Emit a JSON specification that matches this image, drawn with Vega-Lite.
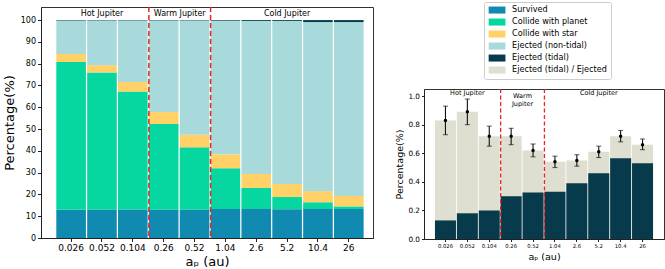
{
  "$schema": "https://vega.github.io/schema/vega-lite/v6.json",
  "padding": {"left": 2, "top": 1, "right": 0, "bottom": 0},
  "spacing": 20,
  "config": {
    "font": "DejaVu Sans",
    "view": {"stroke": "#333333", "strokeWidth": 1},
    "axis": {"domainColor": "#222222", "tickColor": "#222222", "labelColor": "#000000", "titleColor": "#000000", "grid": false, "tickSize": 3.5, "labelPadding": 2, "titleFontWeight": "normal", "labelFont": "DejaVu Sans", "titleFont": "DejaVu Sans", "labelOverlap": false},
    "legend": {"orient": "none", "legendX": 443, "legendY": -5, "labelFontSize": 8.1, "labelFont": "DejaVu Sans", "labelColor": "#000000", "symbolType": "M-2.4,-1H2.4V1H-2.4Z", "symbolSize": 49, "symbolStrokeWidth": 0, "symbolOpacity": 1, "rowPadding": 3.0, "labelOffset": 11, "padding": 4, "strokeColor": "#cccccc", "fillColor": "white", "cornerRadius": 2, "symbolOffset": 5}
  },
  "datasets": {
    "left": [
      {"ap": "0.026", "cat": "Survived", "k": 1, "value": 13.0},
      {"ap": "0.026", "cat": "Collide with planet", "k": 2, "value": 67.8},
      {"ap": "0.026", "cat": "Collide with star", "k": 3, "value": 3.6},
      {"ap": "0.026", "cat": "Ejected (non-tidal)", "k": 4, "value": 15.4},
      {"ap": "0.026", "cat": "Ejected (tidal)", "k": 5, "value": 0.2},
      {"ap": "0.052", "cat": "Survived", "k": 1, "value": 13.0},
      {"ap": "0.052", "cat": "Collide with planet", "k": 2, "value": 63.0},
      {"ap": "0.052", "cat": "Collide with star", "k": 3, "value": 3.3},
      {"ap": "0.052", "cat": "Ejected (non-tidal)", "k": 4, "value": 20.5},
      {"ap": "0.052", "cat": "Ejected (tidal)", "k": 5, "value": 0.2},
      {"ap": "0.104", "cat": "Survived", "k": 1, "value": 13.1},
      {"ap": "0.104", "cat": "Collide with planet", "k": 2, "value": 54.1},
      {"ap": "0.104", "cat": "Collide with star", "k": 3, "value": 4.4},
      {"ap": "0.104", "cat": "Ejected (non-tidal)", "k": 4, "value": 28.2},
      {"ap": "0.104", "cat": "Ejected (tidal)", "k": 5, "value": 0.2},
      {"ap": "0.26", "cat": "Survived", "k": 1, "value": 13.0},
      {"ap": "0.26", "cat": "Collide with planet", "k": 2, "value": 39.3},
      {"ap": "0.26", "cat": "Collide with star", "k": 3, "value": 5.5},
      {"ap": "0.26", "cat": "Ejected (non-tidal)", "k": 4, "value": 42.0},
      {"ap": "0.26", "cat": "Ejected (tidal)", "k": 5, "value": 0.2},
      {"ap": "0.52", "cat": "Survived", "k": 1, "value": 13.0},
      {"ap": "0.52", "cat": "Collide with planet", "k": 2, "value": 28.6},
      {"ap": "0.52", "cat": "Collide with star", "k": 3, "value": 5.8},
      {"ap": "0.52", "cat": "Ejected (non-tidal)", "k": 4, "value": 52.4},
      {"ap": "0.52", "cat": "Ejected (tidal)", "k": 5, "value": 0.2},
      {"ap": "1.04", "cat": "Survived", "k": 1, "value": 13.3},
      {"ap": "1.04", "cat": "Collide with planet", "k": 2, "value": 18.7},
      {"ap": "1.04", "cat": "Collide with star", "k": 3, "value": 6.4},
      {"ap": "1.04", "cat": "Ejected (non-tidal)", "k": 4, "value": 61.3},
      {"ap": "1.04", "cat": "Ejected (tidal)", "k": 5, "value": 0.3},
      {"ap": "2.6", "cat": "Survived", "k": 1, "value": 13.3},
      {"ap": "2.6", "cat": "Collide with planet", "k": 2, "value": 9.7},
      {"ap": "2.6", "cat": "Collide with star", "k": 3, "value": 6.4},
      {"ap": "2.6", "cat": "Ejected (non-tidal)", "k": 4, "value": 70.2},
      {"ap": "2.6", "cat": "Ejected (tidal)", "k": 5, "value": 0.4},
      {"ap": "5.2", "cat": "Survived", "k": 1, "value": 13.2},
      {"ap": "5.2", "cat": "Collide with planet", "k": 2, "value": 5.6},
      {"ap": "5.2", "cat": "Collide with star", "k": 3, "value": 6.0},
      {"ap": "5.2", "cat": "Ejected (non-tidal)", "k": 4, "value": 74.8},
      {"ap": "5.2", "cat": "Ejected (tidal)", "k": 5, "value": 0.4},
      {"ap": "10.4", "cat": "Survived", "k": 1, "value": 13.3},
      {"ap": "10.4", "cat": "Collide with planet", "k": 2, "value": 3.1},
      {"ap": "10.4", "cat": "Collide with star", "k": 3, "value": 5.1},
      {"ap": "10.4", "cat": "Ejected (non-tidal)", "k": 4, "value": 77.6},
      {"ap": "10.4", "cat": "Ejected (tidal)", "k": 5, "value": 0.9},
      {"ap": "26", "cat": "Survived", "k": 1, "value": 13.3},
      {"ap": "26", "cat": "Collide with planet", "k": 2, "value": 1.2},
      {"ap": "26", "cat": "Collide with star", "k": 3, "value": 4.8},
      {"ap": "26", "cat": "Ejected (non-tidal)", "k": 4, "value": 79.8},
      {"ap": "26", "cat": "Ejected (tidal)", "k": 5, "value": 0.9}
    ],
    "right": [
      {"ap": "0.026", "tidal": 0.13, "ratio": 0.83, "lo": 0.73, "hi": 0.93},
      {"ap": "0.052", "tidal": 0.18, "ratio": 0.89, "lo": 0.80, "hi": 0.98},
      {"ap": "0.104", "tidal": 0.20, "ratio": 0.72, "lo": 0.65, "hi": 0.79},
      {"ap": "0.26", "tidal": 0.30, "ratio": 0.72, "lo": 0.66, "hi": 0.775},
      {"ap": "0.52", "tidal": 0.325, "ratio": 0.62, "lo": 0.575, "hi": 0.665},
      {"ap": "1.04", "tidal": 0.33, "ratio": 0.54, "lo": 0.50, "hi": 0.58},
      {"ap": "2.6", "tidal": 0.39, "ratio": 0.55, "lo": 0.51, "hi": 0.59},
      {"ap": "5.2", "tidal": 0.46, "ratio": 0.61, "lo": 0.57, "hi": 0.65},
      {"ap": "10.4", "tidal": 0.565, "ratio": 0.72, "lo": 0.68, "hi": 0.76},
      {"ap": "26", "tidal": 0.53, "ratio": 0.66, "lo": 0.625, "hi": 0.70}
    ],
    "bounds": [{"ap": "0.26"}, {"ap": "1.04"}],
    "labels": [
      {"ap": "0.052", "label": "Hot Jupiter", "mid": "center"},
      {"ap": "0.52", "label": "Warm Jupiter", "mid": "edge"},
      {"ap": "5.2", "label": "Cold Jupiter", "mid": "center"}
    ],
    "labels2": [
      {"ap": "0.052", "label": "Hot Jupiter", "mid": "center"},
      {"ap": "0.52", "label": "Warm\nJupiter", "mid": "edge"},
      {"ap": "5.2", "label": "Cold Jupiter", "mid": "center"}
    ]
  },
  "hconcat": [
    {
      "width": 332,
      "height": 231,
      "encoding": {
        "x": {"field": "ap", "type": "ordinal", "scale": {"domain": ["0.026", "0.052", "0.104", "0.26", "0.52", "1.04", "2.6", "5.2", "10.4", "26"], "paddingInner": 0.04, "paddingOuter": 0.4, "align": 0.62}, "axis": {"title": "aₚ (au)", "labelAngle": 0, "labelFontSize": 9, "titleFontSize": 13, "titlePadding": 3}}
      },
      "layer": [
        {
          "data": {"name": "left"},
          "mark": {"type": "bar"},
          "encoding": {
            "y": {"field": "value", "type": "quantitative", "stack": "zero", "scale": {"domain": [0, 106], "nice": false}, "axis": {"values": [0, 10, 20, 30, 40, 50, 60, 70, 80, 90, 100], "title": "Percentage(%)", "labelFontSize": 8, "titleFontSize": 13, "titlePadding": 4}},
            "color": {"field": "cat", "type": "nominal", "scale": {"domain": ["Survived", "Collide with planet", "Collide with star", "Ejected (non-tidal)", "Ejected (tidal)", "Ejected (tidal) / Ejected"], "range": ["#118AB2", "#06D6A0", "#FFD166", "#A8DADC", "#073B4C", "#DEDED1"]}, "legend": {"title": null}},
            "order": {"field": "k", "type": "quantitative"}
          }
        },
        {
          "data": {"name": "bounds"},
          "mark": {"type": "rule", "color": "#ee2222", "strokeDash": [5, 3], "strokeWidth": 1.5},
          "encoding": {"x": {"field": "ap", "type": "ordinal", "bandPosition": 0}}
        },
        {
          "data": {"name": "labels"},
          "transform": [{"filter": "datum.mid == 'center'"}],
          "mark": {"type": "text", "fontSize": 8, "baseline": "middle", "color": "#000000"},
          "encoding": {"text": {"field": "label"}, "y": {"datum": 103, "type": "quantitative", "axis": {"values": [0, 10, 20, 30, 40, 50, 60, 70, 80, 90, 100], "title": "Percentage(%)", "labelFontSize": 8, "titleFontSize": 13, "titlePadding": 4}}}
        },
        {
          "data": {"name": "labels"},
          "transform": [{"filter": "datum.mid == 'edge'"}],
          "mark": {"type": "text", "fontSize": 8, "baseline": "middle", "color": "#000000"},
          "encoding": {"x": {"field": "ap", "type": "ordinal", "bandPosition": 0}, "text": {"field": "label"}, "y": {"datum": 103, "type": "quantitative", "axis": {"values": [0, 10, 20, 30, 40, 50, 60, 70, 80, 90, 100], "title": "Percentage(%)", "labelFontSize": 8, "titleFontSize": 13, "titlePadding": 4}}}
        }
      ]
    },
    {
      "vconcat": [
        {
          "width": 240,
          "height": 80,
          "view": {"stroke": null},
          "data": {"values": []},
          "mark": {"type": "point", "opacity": 0},
          "encoding": {}
        },
        {
          "width": 240,
          "height": 150,
          "encoding": {
            "x": {"field": "ap", "type": "ordinal", "scale": {"domain": ["0.026", "0.052", "0.104", "0.26", "0.52", "1.04", "2.6", "5.2", "10.4", "26"], "paddingInner": 0.04, "paddingOuter": 0.5}, "axis": {"title": "aₚ (au)", "labelAngle": 0, "labelFontSize": 5.3, "titleFontSize": 9.5, "titlePadding": 3, "tickSize": 2.5}}
          },
          "layer": [
            {
              "data": {"name": "right"},
              "mark": {"type": "bar"},
              "encoding": {
                "y": {"field": "ratio", "type": "quantitative", "scale": {"domain": [0, 1.05], "nice": false}, "axis": {"values": [0, 0.2, 0.4, 0.6, 0.8, 1.0], "format": ".1f", "title": "Percentage(%)", "labelFontSize": 7.3, "titleFontSize": 9.5, "titlePadding": 3, "tickSize": 2.5}},
                "color": {"datum": "Ejected (tidal) / Ejected", "type": "nominal", "scale": {"domain": ["Survived", "Collide with planet", "Collide with star", "Ejected (non-tidal)", "Ejected (tidal)", "Ejected (tidal) / Ejected"], "range": ["#118AB2", "#06D6A0", "#FFD166", "#A8DADC", "#073B4C", "#DEDED1"]}, "legend": {"title": null}}
              }
            },
            {
              "data": {"name": "right"},
              "mark": {"type": "bar"},
              "encoding": {
                "y": {"field": "tidal", "type": "quantitative", "axis": {"values": [0, 0.2, 0.4, 0.6, 0.8, 1.0], "format": ".1f", "title": "Percentage(%)", "labelFontSize": 7.3, "titleFontSize": 9.5, "titlePadding": 3, "tickSize": 2.5}},
                "color": {"datum": "Ejected (tidal)", "type": "nominal", "scale": {"domain": ["Survived", "Collide with planet", "Collide with star", "Ejected (non-tidal)", "Ejected (tidal)", "Ejected (tidal) / Ejected"], "range": ["#118AB2", "#06D6A0", "#FFD166", "#A8DADC", "#073B4C", "#DEDED1"]}, "legend": {"title": null}}
              }
            },
            {
              "data": {"name": "bounds"},
              "mark": {"type": "rule", "color": "#ee2222", "strokeDash": [4, 2.5], "strokeWidth": 1.3},
              "encoding": {"x": {"field": "ap", "type": "ordinal", "bandPosition": 0}}
            },
            {
              "data": {"name": "right"},
              "mark": {"type": "errorbar", "ticks": {"size": 5, "color": "#111111"}, "rule": {"strokeWidth": 1.1, "color": "#111111"}},
              "encoding": {
                "y": {"field": "lo", "type": "quantitative", "axis": {"values": [0, 0.2, 0.4, 0.6, 0.8, 1.0], "format": ".1f", "title": "Percentage(%)", "labelFontSize": 7.3, "titleFontSize": 9.5, "titlePadding": 3, "tickSize": 2.5}},
                "y2": {"field": "hi"}
              }
            },
            {
              "data": {"name": "right"},
              "mark": {"type": "point", "filled": true, "size": 12, "color": "#000000", "opacity": 1},
              "encoding": {"y": {"field": "ratio", "type": "quantitative", "axis": {"values": [0, 0.2, 0.4, 0.6, 0.8, 1.0], "format": ".1f", "title": "Percentage(%)", "labelFontSize": 7.3, "titleFontSize": 9.5, "titlePadding": 3, "tickSize": 2.5}}}
            },
            {
              "data": {"name": "labels2"},
              "transform": [{"filter": "datum.mid == 'center'"}],
              "mark": {"type": "text", "fontSize": 6.5, "baseline": "middle", "color": "#000000"},
              "encoding": {"text": {"field": "label"}, "y": {"datum": 1.023, "type": "quantitative", "axis": {"values": [0, 0.2, 0.4, 0.6, 0.8, 1.0], "format": ".1f", "title": "Percentage(%)", "labelFontSize": 7.3, "titleFontSize": 9.5, "titlePadding": 3, "tickSize": 2.5}}}
            },
            {
              "data": {"name": "labels2"},
              "transform": [{"filter": "datum.mid == 'edge'"}],
              "mark": {"type": "text", "fontSize": 6.5, "baseline": "middle", "lineBreak": "\n", "lineHeight": 8, "color": "#000000"},
              "encoding": {"x": {"field": "ap", "type": "ordinal", "bandPosition": 0}, "text": {"field": "label"}, "y": {"datum": 1.0, "type": "quantitative", "axis": {"values": [0, 0.2, 0.4, 0.6, 0.8, 1.0], "format": ".1f", "title": "Percentage(%)", "labelFontSize": 7.3, "titleFontSize": 9.5, "titlePadding": 3, "tickSize": 2.5}}}
            }
          ]
        }
      ],
      "spacing": 0
    }
  ]
}
